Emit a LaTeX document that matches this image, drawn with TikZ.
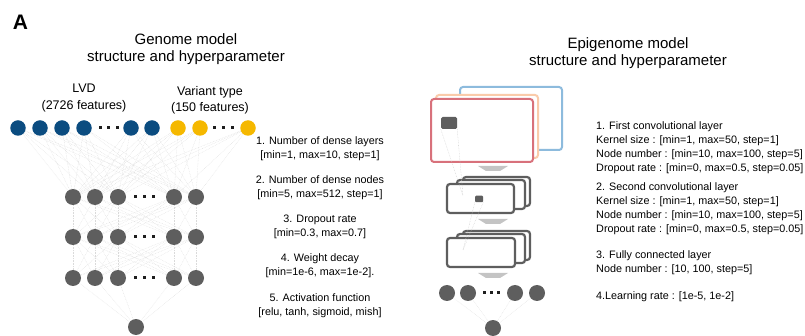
\documentclass[tikz,border=0pt]{standalone}
\usepackage{fontspec}
\setmainfont{Liberation Sans}
\usetikzlibrary{backgrounds}
\definecolor{lvdblue}{HTML}{0B4C80}
\definecolor{vtyellow}{HTML}{F5B800}
\definecolor{unitgray}{HTML}{5E5E5E}
\definecolor{meshgray}{HTML}{DADADA}
\definecolor{guidegray}{HTML}{C8C8C8}
\definecolor{dotblack}{HTML}{1E1E1E}
\definecolor{mapblue}{HTML}{8DBBDD}
\definecolor{mappeach}{HTML}{FACBAA}
\definecolor{mapred}{HTML}{D8717B}
\definecolor{flowgray}{HTML}{C4C4C4}
\begin{document}
\begin{tikzpicture}[x=1pt,y=-1pt,
  unit/.style={circle,inner sep=0pt,minimum size=15.5pt},
  lvd/.style={unit,fill=lvdblue},
  vtype/.style={unit,fill=vtyellow},
  hid/.style={unit,fill=unitgray,minimum size=16pt},
  mesh/.style={draw=meshgray,line width=0.3pt,dash pattern=on 0.7pt off 0.9pt},
  title/.style={font=\fontsize{15}{17}\selectfont,align=center,inner sep=0pt},
  label/.style={font=\fontsize{12.5}{16.5}\selectfont,align=center,inner sep=0pt},
  hpc/.style={font=\fontsize{10.8}{14}\selectfont,align=center,inner sep=0pt},
  hpl/.style={font=\fontsize{10.8}{14}\selectfont,align=left,inner sep=0pt,anchor=west},
  fmap/.style={line width=2pt,rounded corners=3pt,fill=white},
  gmap/.style={fmap,draw=unitgray,line width=2.2pt},
  kernel/.style={fill=unitgray,rounded corners=1.5pt,inner sep=0pt},
  flow/.style={fill=flowgray},
  ell/.style={fill=dotblack}
]
\useasboundingbox (0,0) rectangle (805,336);

% ---------------- panel letter and titles ----------------
\node[font=\fontsize{21}{21}\selectfont\bfseries,inner sep=0pt] (panel) at (20.5,22.5) {A};
\node[title] (gtitle) at (186,49.5) {Genome model\\structure and hyperparameter};
\node[title] (etitle) at (628,53) {Epigenome model\\structure and hyperparameter};

\node[label] (lvdlab) at (84,98) {LVD\\(2726 features)};
\node[label] (vtlab) at (210,100.5) {Variant type\\(150 features)};

% ---------------- genome dense network ----------------
\foreach \x [count=\i] in {18,40,62,84,131,152}
  \node[lvd] (in\i) at (\x,128) {};
\foreach \x [count=\i from 7] in {178,200,248}
  \node[vtype] (in\i) at (\x,128) {};
\foreach \y [count=\l] in {197,237,278}
  \foreach \x [count=\i] in {73,95,118,174,196}
    \node[hid] (h\l-\i) at (\x,\y) {};
\node[hid] (gout) at (136,327) {};

% ellipsis marks
\foreach \x in {100,108.5,117} \fill[ell] (\x-1.5,126.5) rectangle ++(3,3);
\foreach \x in {214,223,232} \fill[ell] (\x-1.5,126.5) rectangle ++(3,3);
\foreach \y in {197,237,278}
  \foreach \x in {135,144,153} \fill[ell] (\x-1.5,\y-1.5) rectangle ++(3,3);

\begin{scope}[on background layer]
  \foreach \i in {1,...,9}
    \foreach \j in {1,...,5}
      \draw[mesh] (in\i) -- (h1-\j);
  \foreach \i in {1,...,5}
    \foreach \j in {1,...,5} {
      \draw[mesh] (h1-\i) -- (h2-\j);
      \draw[mesh] (h2-\i) -- (h3-\j);
    }
  \foreach \i in {1,...,5}
    \draw[mesh] (h3-\i) -- (gout);
\end{scope}

% genome hyperparameters
\node[hpc] (g1) at (320,149) {1. Number of dense layers\\{[}min=1, max=10, step=1{]}};
\node[hpc] (g2) at (320,187.5) {2. Number of dense nodes\\{[}min=5, max=512, step=1{]}};
\node[hpc] (g3) at (320,226.5) {3. Dropout rate\\{[}min=0.3, max=0.7{]}};
\node[hpc] (g4) at (320,265.5) {4. Weight decay\\{[}min=1e-6, max=1e-2{]}.};
\node[hpc] (g5) at (320,306) {5. Activation function\\{[}relu, tanh, sigmoid, mish{]}};

% ---------------- epigenome convolutional network ----------------
% input feature maps
\draw[fmap,draw=mapblue] (460,87) rectangle (562,150);
\draw[fmap,draw=mappeach] (436,95) rectangle (538,158);
\draw[fmap,draw=mapred] (431,99) rectangle (533,162);
\node[kernel,minimum width=16pt,minimum height=12pt] (k1) at (449,123) {};

\fill[flow] (478,166) -- (508,166) -- (500,171) -- (486,171) -- cycle;

% first convolutional maps
\draw[gmap] (463,177) rectangle (530,206);
\draw[gmap] (457,180) rectangle (525,209);
\draw[gmap] (447,184) rectangle (514,213);
\node[kernel,minimum width=8pt,minimum height=6.5pt,rounded corners=1pt] (k2) at (479,199) {};
\coordinate (r1) at (463,196);

\fill[flow] (478,219) -- (508,219) -- (500,224) -- (486,224) -- cycle;

% second convolutional maps
\draw[gmap] (463,231) rectangle (530,260);
\draw[gmap] (457,234) rectangle (525,263);
\draw[gmap] (447,238) rectangle (515,267);
\coordinate (r2) at (463,250);

\fill[flow] (478,273) -- (508,273) -- (500,278) -- (486,278) -- cycle;

% receptive field guides
\draw[mesh,draw=guidegray] (k1.south west) -- (r1);
\draw[mesh,draw=guidegray] (k1.south east) -- (r1);
\draw[mesh,draw=guidegray] (k2.south west) -- (r2);
\draw[mesh,draw=guidegray] (k2.south east) -- (r2);

% fully connected layer
\foreach \x [count=\i] in {447,468,515,537}
  \node[hid] (f\i) at (\x,293) {};
\node[hid] (eout) at (493,328) {};
\foreach \x in {484,491,498} \fill[ell] (\x-1.5,291.5) rectangle ++(3,3);
\begin{scope}[on background layer]
  \foreach \i in {1,...,4}
    \draw[mesh] (f\i) -- (eout);
\end{scope}

% epigenome hyperparameters
\node[hpl] (e1) at (596,148) {1. First convolutional layer\\Kernel size : {[}min=1, max=50, step=1{]}\\Node number : {[}min=10, max=100, step=5{]}\\Dropout rate : {[}min=0, max=0.5, step=0.05{]}};
\node[hpl] (e2) at (596,208.5) {2. Second convolutional layer\\Kernel size : {[}min=1, max=50, step=1{]}\\Node number : {[}min=10, max=100, step=5{]}\\Dropout rate : {[}min=0, max=0.5, step=0.05{]}};
\node[hpl] (e3) at (596,263) {3. Fully connected layer\\Node number : {[}10, 100, step=5{]}};
\node[hpl] (e4) at (596,297) {4.Learning rate : {[}1e-5, 1e-2{]}};
\end{tikzpicture}
\end{document}
